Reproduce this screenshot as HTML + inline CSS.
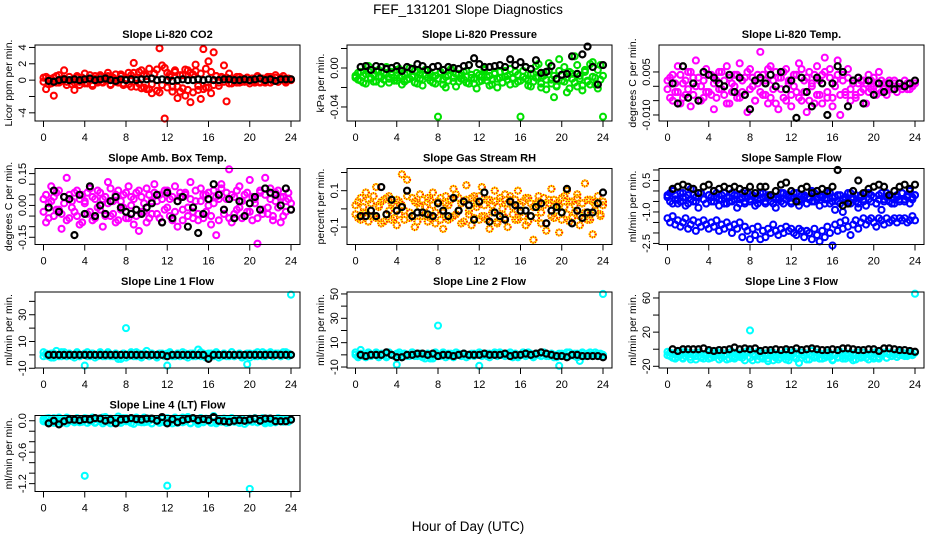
<!DOCTYPE html>
<html><head><meta charset="utf-8"><style>
body{margin:0;background:#fff;}
svg{display:block;font-family:"Liberation Sans",Arial,sans-serif;}
</style></head><body>
<svg id="chart" width="936" height="540" viewBox="0 0 936 540" xmlns="http://www.w3.org/2000/svg">
<text x="468" y="14" text-anchor="middle" font-size="13.5">FEF_131201 Slope Diagnostics</text>
<text x="468" y="531" text-anchor="middle" font-size="13.5">Hour of Day (UTC)</text>
</svg>
<script>
// ---- data ----
const xTicks = [0,4,8,12,16,20,24];
const co2Red = [0.3,-1.1,0.2,-0.4,-1.9,0.5,-0.3,0.1,1.2,-0.2,0.4,-0.5,-1.2,0.3,-0.6,0.2,0.8,-0.4,0.1,-0.7,0.5,-0.3,0.6,-0.2,0.4,0.9,-0.5,0.2,0.7,-0.3,0.5,-0.6,0.2,0.9,-0.8,2.1,0.3,-0.4,1.2,-0.9,0.5,-1.1,-1.6,0.8,1.3,-1.5,1.8,-4.7,0.9,0.4,-0.8,1.0,-2.2,-1.4,0.6,-1.9,1.2,-2.7,0.7,1.9,-1.2,-2.3,3.8,-0.9,2.3,-1.6,3.4,0.5,-0.7,0.3,1.8,-2.6,0.8,-0.4,0.2,-0.3,0.4,-0.2,0.1,0.3,-0.4,0.2,-0.1,0.5,-0.3,0.2,-0.2,0.4,-0.3,0.1,0.6,-0.2,0.3,0.5,-0.1,0.2,0.1];
const co2RedB = [-0.2,0.4,-0.5,0.1,0.3,-0.3,0.6,-0.1,0.2,-0.6,0.4,0.0,-0.3,0.5,-0.2,0.3,-0.4,0.1,0.6,-0.5,0.2,-0.1,0.4,-0.3,0.0,0.5,-0.6,0.3,-0.2,0.1,0.7,-0.4,0.2,-0.5,0.6,0.9,-0.8,1.0,-1.0,0.7,-1.1,1.4,-0.5,0.8,-1.3,3.9,-0.6,1.5,-0.9,0.7,-1.4,1.2,-0.8,0.6,-1.0,1.3,-1.2,0.9,-1.5,1.1,-0.7,0.8,-1.1,1.4,-0.9,1.0,-0.6,0.5,-0.3,0.4,-0.2,0.3,-0.4,0.2,-0.1,0.4,-0.3,0.2,-0.2,0.3,-0.1,0.2,-0.3,0.4,-0.2,0.1,-0.3,0.2,0.4,-0.1,0.3,-0.2,0.1,0.2,-0.3,0.1,0.0];
const co2Black = [-0.1,-0.2,0.0,0.1,0.0,0.1,0.0,0.1,0.2,0.0,0.1,0.2,0.0,-0.1,0.1,0.0,0.1,0.0,0.1,0.1,0.2,0.0,0.1,0.0,-0.1,0.0,0.1,0.0,0.0,0.1,0.0,0.1,0.0,0.0,0.1,0.1,0.0,0.0,0.1,0.0,0.1,0.2,0.0,0.1,-0.1,0.1,0.1,0.1];

const presGreen = [-0.008,-0.012,-0.004,-0.015,-0.006,0.002,-0.010,-0.014,-0.003,-0.009,-0.016,-0.005,0.001,-0.011,-0.007,-0.013,-0.002,-0.010,-0.017,-0.006,-0.012,0.000,-0.008,-0.015,-0.004,-0.011,-0.018,-0.007,-0.003,-0.013,-0.009,-0.016,-0.050,-0.005,-0.012,-0.020,-0.008,-0.002,-0.014,-0.019,-0.006,-0.011,-0.004,-0.015,0.003,-0.010,-0.016,-0.021,-0.007,-0.013,-0.001,-0.009,-0.018,-0.012,-0.005,-0.020,-0.010,-0.015,-0.003,-0.008,-0.017,-0.011,-0.004,-0.014,-0.050,-0.009,0.001,-0.013,-0.019,-0.006,-0.010,0.004,-0.016,-0.008,-0.022,-0.003,-0.012,-0.030,-0.018,0.009,-0.007,-0.014,-0.025,-0.004,-0.011,0.012,-0.019,-0.008,-0.023,-0.002,-0.013,-0.017,0.006,-0.010,-0.021,0.003,-0.050];
const presGreenB = [-0.010,-0.005,-0.013,-0.008,-0.016,-0.003,-0.011,-0.007,-0.014,-0.002,-0.009,-0.012,-0.006,-0.015,-0.004,-0.010,-0.013,-0.001,-0.008,-0.014,-0.005,-0.011,-0.009,-0.003,-0.016,-0.007,-0.012,-0.002,-0.010,-0.006,-0.015,-0.008,-0.011,-0.004,-0.017,-0.009,-0.013,-0.001,-0.010,-0.006,-0.014,-0.008,-0.012,-0.003,-0.016,-0.007,-0.011,-0.005,-0.014,-0.009,-0.002,-0.013,-0.008,-0.017,-0.006,-0.011,-0.004,-0.015,-0.009,-0.012,-0.001,-0.010,-0.016,-0.007,-0.013,-0.003,-0.011,-0.018,-0.006,-0.014,0.002,-0.009,-0.020,-0.005,-0.012,0.005,-0.016,-0.008,-0.019,-0.003,-0.013,0.001,-0.010,-0.021,-0.006,-0.015,0.003,-0.011,-0.018,-0.004,-0.014,0.004,-0.009,-0.017,-0.002,-0.012,-0.008];
const presBlack = [0.001,0.002,-0.002,0.002,0.001,-0.001,0.000,0.002,-0.003,0.001,-0.001,0.004,0.002,-0.002,0.001,0.002,-0.002,0.001,0.000,-0.001,0.002,0.003,0.010,0.004,0.001,0.001,0.002,0.003,0.001,0.009,0.003,0.006,0.001,-0.001,0.008,-0.005,-0.004,0.002,-0.011,-0.007,-0.006,0.012,-0.006,0.014,0.022,0.001,-0.017,0.003];

const tempMag = [0.002,-0.004,0.004,-0.002,0.007,-0.006,0.001,-0.003,0.005,-0.007,0.003,0.009,-0.005,0.000,-0.004,0.006,-0.002,0.004,-0.008,0.002,-0.001,0.005,-0.003,0.007,-0.006,0.001,0.004,-0.004,0.008,-0.002,0.003,-0.009,0.006,0.000,-0.005,0.004,0.012,-0.003,0.002,-0.006,0.007,-0.001,0.005,-0.008,0.003,-0.004,0.006,0.001,-0.007,0.004,-0.002,0.008,-0.005,0.002,-0.009,0.005,0.000,-0.006,0.007,-0.003,0.004,0.010,-0.004,0.006,-0.007,0.002,0.009,-0.010,0.004,-0.003,0.006,-0.005,0.001,-0.004,0.003,-0.002,0.002,-0.006,0.004,-0.001,0.003,-0.003,0.005,-0.002,0.001,-0.003,0.002,-0.001,0.002,-0.002,0.001,0.000,0.002,-0.001,0.001,0.000,0.001];
const tempMagB = [-0.001,0.003,-0.005,0.001,-0.002,0.004,-0.004,0.002,-0.001,0.005,-0.003,0.000,0.003,-0.005,0.002,-0.002,0.004,-0.003,0.001,-0.004,0.005,-0.001,0.002,-0.006,0.003,-0.002,0.000,0.004,-0.004,0.002,-0.003,0.005,-0.001,0.003,-0.005,0.001,-0.002,0.004,-0.003,0.006,-0.004,0.002,-0.006,0.003,-0.001,0.005,-0.005,0.002,-0.003,0.000,0.004,-0.004,0.006,-0.002,0.003,-0.005,0.001,0.004,-0.003,0.002,-0.006,0.005,-0.002,0.003,-0.004,0.000,0.004,-0.003,0.002,-0.002,0.003,-0.001,0.002,-0.003,0.001,0.002,-0.001,0.001,-0.002,0.002,0.000,0.001,-0.001,0.002,-0.001,0.001,0.000,-0.001,0.001,0.000,0.001,-0.001,0.000,0.001,-0.001,0.000,0.001];
const tempBlack = [0.001,-0.006,0.007,-0.004,0.001,-0.005,0.005,0.004,0.003,0.001,0.000,0.004,-0.002,0.003,-0.003,-0.008,0.002,0.003,0.001,0.004,0.000,0.005,-0.001,0.002,-0.011,0.003,-0.002,-0.007,0.003,0.001,-0.010,0.001,0.007,0.005,-0.007,0.002,0.003,-0.006,0.002,-0.003,0.001,-0.002,0.001,-0.001,0.001,0.000,0.001,0.002];

const boxMag = [0.03,-0.08,0.01,0.09,-0.05,0.06,-0.02,-0.11,0.04,0.13,-0.06,0.02,-0.03,0.07,-0.09,0.05,0.01,-0.04,0.08,-0.07,0.03,-0.01,0.06,-0.10,0.04,0.11,-0.05,0.02,-0.08,0.07,-0.02,0.05,-0.06,0.09,0.00,-0.09,0.06,-0.12,0.04,-0.03,0.08,-0.06,0.02,0.10,-0.04,0.05,-0.08,0.07,-0.01,0.03,-0.07,0.09,-0.10,0.04,-0.02,0.06,-0.05,0.11,-0.03,0.02,-0.07,0.08,-0.06,0.05,0.00,-0.09,0.07,-0.14,0.03,0.10,-0.04,0.06,0.17,-0.08,0.04,-0.02,0.09,-0.06,0.05,-0.03,0.12,-0.07,0.03,-0.18,0.06,-0.04,0.13,-0.01,0.08,-0.05,0.02,0.07,-0.08,0.04,-0.03,0.06,0.01];
const boxMagB = [-0.03,0.05,-0.06,0.02,0.04,-0.02,0.07,-0.04,0.01,-0.07,0.05,-0.01,0.06,-0.05,0.03,-0.08,0.02,0.06,-0.03,0.04,-0.06,0.07,-0.02,0.03,-0.05,0.01,0.08,-0.04,0.05,-0.07,0.02,-0.01,0.06,-0.06,0.04,0.03,-0.05,0.07,-0.03,0.01,-0.08,0.05,-0.04,0.06,0.02,-0.06,0.03,-0.02,0.07,-0.05,0.04,-0.03,0.02,0.06,-0.07,0.05,-0.01,0.03,-0.06,0.07,-0.04,0.02,0.05,-0.03,0.06,-0.05,0.01,0.04,-0.07,0.08,-0.02,0.03,-0.06,0.05,-0.04,0.07,-0.01,0.02,-0.05,0.06,-0.03,0.04,0.01,-0.06,0.07,-0.02,0.05,-0.04,0.03,-0.07,0.06,-0.01,0.04,-0.05,0.02,0.03,-0.02];
const boxBlack = [-0.01,0.07,-0.03,0.04,0.03,-0.14,0.05,-0.04,0.09,-0.05,0.00,-0.04,0.02,0.04,-0.01,-0.03,-0.04,-0.02,-0.04,-0.01,0.01,0.05,-0.08,0.06,-0.06,0.02,0.04,-0.10,-0.01,-0.13,-0.04,0.03,0.10,0.05,-0.02,0.03,-0.06,0.02,-0.05,0.01,0.04,-0.02,0.08,0.06,0.05,0.00,0.08,-0.02];

const rhOrange = [0.02,-0.05,0.06,-0.02,0.09,-0.07,0.03,-0.04,0.12,0.01,-0.08,0.05,-0.03,0.07,-0.06,0.02,-0.09,0.04,0.19,-0.01,0.16,-0.05,0.06,-0.10,0.03,0.08,-0.04,0.01,-0.07,0.05,0.09,-0.02,0.04,-0.06,-0.11,0.07,0.02,-0.05,0.11,-0.03,0.06,-0.08,0.04,0.13,-0.01,-0.09,0.07,0.03,-0.06,0.12,-0.04,0.05,-0.11,0.02,0.10,-0.07,0.04,-0.03,0.08,-0.10,0.05,0.01,-0.06,0.10,-0.02,0.04,-0.09,0.06,-0.04,-0.17,0.03,0.07,-0.08,0.02,-0.12,0.05,0.11,-0.05,0.03,-0.13,0.06,0.01,0.10,-0.07,0.04,-0.02,0.08,-0.09,0.03,0.14,-0.06,0.05,-0.14,0.02,0.07,-0.04,0.04];
const rhOrangeB = [-0.03,0.04,-0.06,0.01,-0.02,0.05,-0.04,0.07,-0.05,0.02,0.04,-0.07,0.06,-0.01,0.03,-0.05,0.05,-0.03,0.02,-0.06,0.07,-0.02,-0.04,0.04,-0.07,0.01,0.05,-0.03,0.06,-0.05,0.02,-0.08,0.04,0.06,-0.02,0.03,-0.06,0.05,-0.04,0.08,-0.01,0.03,-0.07,0.05,-0.03,0.06,-0.05,0.01,0.07,-0.04,0.02,-0.06,0.05,-0.02,0.04,-0.08,0.06,0.00,-0.05,0.03,0.07,-0.03,0.05,-0.06,0.02,-0.04,0.06,-0.07,0.03,0.01,-0.05,0.04,-0.02,0.06,-0.08,0.03,-0.04,0.05,-0.01,0.02,-0.06,0.07,-0.03,0.04,-0.05,0.02,0.06,-0.04,0.03,-0.02,0.05,-0.06,0.04,-0.01,0.03,-0.03,0.02];
const rhBlack = [-0.04,-0.04,-0.01,-0.04,0.12,-0.03,0.05,-0.01,0.01,0.10,-0.04,-0.02,-0.02,-0.03,-0.04,0.03,-0.01,-0.04,0.06,-0.01,0.04,0.02,-0.06,0.04,0.09,-0.07,-0.02,-0.04,-0.06,0.04,0.02,-0.01,-0.01,-0.04,0.01,0.03,-0.08,-0.01,0.01,-0.02,0.11,-0.08,-0.01,-0.05,-0.02,-0.02,0.03,0.09];

const sfBlue = [-0.2,-0.5,0.0,-0.4,-0.6,-0.1,-0.3,-0.7,-0.2,0.1,-0.5,-0.3,-0.8,-0.1,-0.4,-0.6,-0.2,-0.5,0.0,-0.3,-0.7,-0.4,-0.1,-0.6,-0.3,-0.5,-0.2,-0.8,-0.4,-0.1,-0.6,-0.3,-0.5,-0.2,-0.7,-0.4,-0.1,-0.3,-0.6,-0.2,-0.5,-0.3,-0.8,-0.4,-0.1,-0.6,-0.2,-0.3,-0.5,-0.1,-0.4,-0.7,-0.2,-0.3,-0.6,-0.4,0.0,-0.5,-0.3,-0.7,-0.2,-0.4,-0.1,-0.6,-0.3,-0.9,-0.5,-0.2,-1.0,-0.4,-0.1,-0.6,-0.3,-0.5,-0.8,-0.2,-0.4,-0.7,-0.1,-0.5,-0.3,-0.6,-0.2,-0.9,-0.4,-0.1,-0.5,-0.3,-0.6,-0.2,-0.4,-0.1,-0.5,-0.3,0.0,-0.4,-0.2];
const sfBlueLow = [-1.3,-1.5,-1.2,-1.6,-1.4,-1.7,-1.5,-1.3,-1.8,-1.6,-1.4,-1.9,-1.5,-1.7,-1.4,-1.6,-1.8,-1.5,-1.7,-1.4,-1.9,-1.6,-1.8,-1.5,-1.7,-2.0,-1.6,-1.8,-1.5,-2.2,-1.7,-1.9,-2.3,-1.8,-2.1,-1.7,-2.3,-1.9,-2.2,-1.8,-2.0,-1.6,-1.9,-2.1,-1.8,-2.0,-1.7,-1.9,-1.8,-2.0,-2.1,-1.8,-1.9,-2.2,-1.9,-2.0,-2.3,-1.8,-2.1,-2.4,-1.9,-2.2,-1.7,-2.0,-2.6,-1.6,-1.9,-1.5,-1.8,-1.4,-1.7,-2.1,-1.6,-1.4,-1.8,-1.5,-1.3,-1.6,-1.4,-1.3,-1.5,-1.7,-1.3,-1.4,-1.6,-1.3,-1.5,-1.4,-1.3,-1.5,-1.3,-1.4,-1.3,-1.5,-1.4,-1.2,-1.4];
const sfBlueB = [-0.3,-0.1,-0.6,-0.2,-0.4,-0.5,-0.1,-0.3,-0.6,-0.4,-0.2,-0.5,-0.3,-0.1,-0.4,-0.6,-0.2,-0.3,-0.5,-0.1,-0.4,-0.2,-0.6,-0.3,-0.5,-0.1,-0.4,-0.2,-0.6,-0.3,-0.5,-0.1,-0.4,-0.2,-0.3,-0.6,-0.4,-0.1,-0.5,-0.3,-0.2,-0.6,-0.4,-0.3,-0.5,-0.1,-0.4,-0.2,-0.6,-0.3,-0.1,-0.5,-0.4,-0.2,-0.6,-0.3,-0.5,-0.1,-0.4,-0.2,-0.3,-0.6,-0.4,-0.1,-0.5,-0.3,-0.2,-0.6,-0.4,-0.3,-0.5,-0.1,-0.4,-0.2,-0.6,-0.3,-0.5,-0.1,-0.4,-0.2,-0.3,-0.6,-0.4,-0.1,-0.5,-0.3,-0.2,-0.6,-0.4,-0.3,-0.5,-0.1,-0.4,-0.2,-0.6,-0.3,-0.2];
const sfBlack = [0.1,0.2,0.3,0.2,0.1,-0.1,0.2,0.3,0.0,0.1,0.2,0.1,0.2,0.1,0.0,0.2,-0.1,0.2,0.2,-0.2,0.0,0.3,0.4,0.0,-0.5,0.1,0.2,-0.1,0.0,0.1,0.0,0.2,1.0,-0.7,-0.6,0.0,0.5,-0.1,0.1,0.2,0.3,0.2,-0.2,0.0,0.2,0.3,0.1,0.3];

const l1Cyan = [2,0,-1,1,-2,3,0,-1,2,-1,1,0,-2,1,-1,0,-8,2,-1,1,0,-1,2,0,-1,1,0,-1,1,-3,-3,1,20,-1,2,0,-1,1,-2,0,3,-1,1,0,-1,0,1,0,-8,1,0,-1,1,0,2,-1,0,1,-1,0,4,-1,1,-2,0,1,-1,2,0,-1,1,0,-1,2,-1,0,1,-2,-1,-7,1,0,-1,2,0,-1,1,0,2,-1,1,0,-1,2,0,1,45];
const l1CyanB = [-1,1,0,-2,1,0,-1,2,0,-1,1,-1,0,2,-1,0,1,-1,0,1,-2,0,1,-1,0,2,-1,0,1,-1,0,1,-2,0,1,-1,2,0,-1,1,0,-1,1,0,-2,1,0,-1,1,2,-1,0,1,-1,0,1,-2,0,1,-1,0,2,-1,0,1,-1,0,1,-2,0,1,-1,0,2,-1,0,1,-1,0,1,-2,0,1,-1,0,2,-1,0,1,-1,0,1,-1,0,2,-1,0];
const l1Black = [0,0,0,0,0,0,0,0,0,0,0,0,0,0,0,0,0,0,0,0,0,0,0,-1,0,0,0,0,0,0,0,-3,0,0,0,0,0,0,0,0,0,0,0,0,0,0,0,0];

const l2Cyan = [2,-1,4,0,-2,1,-1,0,2,-1,1,0,-2,1,0,-1,-8,2,-1,1,0,-1,2,0,-1,1,0,-3,1,-3,-3,1,24,-1,2,0,-1,1,-2,0,1,-1,1,0,-1,0,1,0,-9,1,0,-1,1,0,2,-1,0,1,-1,0,2,-1,1,-2,0,1,-1,2,0,-1,1,0,-1,2,-1,0,1,-2,-1,-9,1,0,-1,2,0,-1,1,-5,2,-1,1,0,-1,2,0,1,50];
const l2CyanB = [0,-2,1,-1,0,2,-1,0,1,-2,0,1,-1,2,0,-1,1,0,-2,1,-1,0,2,-1,0,1,-2,0,1,-1,0,2,-1,0,1,-2,1,0,-1,2,0,-1,1,-2,0,1,-1,0,2,-1,0,1,-2,0,1,-1,2,0,-1,1,0,-2,1,-1,0,2,-1,0,1,-2,0,1,-1,2,0,-1,1,0,-2,1,-1,0,2,-1,0,1,-2,0,1,-1,0,2,-1,0,1,-1,0];
const l2Black = [0,-1,0,0,0,2,0,-2,-2,0,0,1,1,0,1,-1,0,0,-1,0,1,0,0,0,1,0,0,0,1,-1,0,0,1,0,1,2,1,0,-1,-1,-2,0,0,-1,-1,-1,-1,-2];

const l3Cyan = [-3,-8,-5,-11,-4,-7,-10,-3,-6,-12,-5,-8,-4,-9,-11,-6,-3,-10,-7,-5,-12,-4,-8,-6,-11,-3,-9,-7,-5,-10,-4,-2,22,-13,-6,-3,-9,-11,-5,-14,-7,-4,-10,-12,-6,-8,-3,-13,-5,-9,-11,-16,-4,-7,-12,-6,-2,-10,-8,-5,-11,-7,-4,-9,-12,-6,-10,-3,-8,-11,-5,-9,-13,-7,-4,-10,-8,-6,-12,-5,-9,-3,-11,-7,-5,-10,-4,-8,-6,-9,-3,-7,-5,-8,-4,-6,65];
const l3CyanB = [-7,-4,-10,-6,-9,-3,-11,-8,-5,-9,-7,-12,-4,-10,-6,-8,-11,-5,-9,-3,-7,-10,-6,-12,-4,-8,-11,-5,-9,-7,-13,-3,-10,-6,-8,-12,-5,-9,-7,-11,-4,-13,-8,-6,-10,-5,-12,-9,-7,-3,-11,-6,-10,-8,-5,-12,-7,-9,-4,-11,-6,-10,-8,-5,-13,-7,-9,-4,-11,-6,-8,-10,-5,-12,-7,-9,-4,-10,-6,-8,-11,-5,-9,-7,-4,-10,-6,-8,-5,-9,-7,-4,-8,-6,-5,-7,-4];
const l3Black = [0,-2,0,0,0,0,1,-1,-2,-1,-1,0,2,0,1,0,1,-2,-1,-1,0,-1,0,-1,1,-1,0,1,0,-1,-1,0,-1,1,1,0,-1,-1,0,0,-2,1,1,0,-1,-1,-2,-3];

const l4Cyan = [0.03,-0.02,0.05,0.00,-0.04,0.02,0.06,-0.01,0.03,-0.05,0.04,0.01,-0.02,0.05,-0.03,0.02,-1.05,0.04,-0.01,0.06,-0.04,0.03,0.00,-0.05,0.07,-0.02,0.04,0.01,-0.03,0.08,-0.04,0.02,0.05,-0.01,0.03,-0.06,0.04,0.00,-0.03,0.06,-0.02,0.04,-0.05,0.03,0.01,-0.04,0.05,-0.02,-1.24,0.03,-0.05,0.06,-0.01,0.04,-0.03,0.02,0.07,-0.04,0.03,0.00,-0.06,0.05,-0.02,0.04,0.01,-0.03,0.09,-0.05,0.03,-0.01,0.04,-0.04,0.02,0.05,-0.02,0.03,-0.04,0.01,-0.06,-0.02,-1.30,-0.02,0.05,-0.03,0.02,0.00,-0.05,0.04,-0.01,0.03,-0.03,0.05,0.00,-0.02,0.03,-0.01,0.02];
const l4CyanB = [-0.01,0.04,-0.03,0.02,0.05,-0.02,0.01,-0.04,0.03,0.06,-0.01,0.02,-0.03,0.04,0.00,-0.02,0.05,-0.04,0.02,0.01,-0.03,0.04,-0.01,0.06,-0.02,0.03,-0.05,0.01,0.04,-0.03,0.02,0.05,-0.01,0.03,-0.04,0.02,0.06,-0.02,0.01,-0.03,0.04,0.00,-0.05,0.03,0.02,-0.01,0.04,-0.03,0.05,-0.02,0.01,0.03,-0.04,0.02,0.06,-0.01,0.03,-0.05,0.04,0.01,-0.02,0.05,-0.03,0.02,0.00,-0.04,0.06,-0.01,0.03,-0.02,0.04,0.01,-0.03,0.05,-0.01,0.02,-0.04,0.03,0.00,-0.02,0.04,-0.01,0.03,-0.03,0.02,0.05,-0.02,0.01,-0.04,0.03,0.00,0.02,-0.01,0.03,0.01,-0.02,0.02];
const l4Black = [-0.05,0.00,-0.07,-0.01,0.02,0.02,0.01,0.03,0.02,0.05,0.04,0.00,0.02,-0.05,0.02,0.03,0.05,0.03,0.02,0.04,0.04,0.00,0.07,-0.05,0.03,-0.03,0.01,0.03,0.05,0.01,0.03,0.01,0.07,0.00,-0.01,-0.02,0.00,0.01,0.00,0.02,0.04,0.00,0.04,0.04,-0.01,-0.01,-0.01,0.02];

// tick values per panel
const co2Ticks=[-4,-2,0,2,4], co2Labels=["-4","","0","2","4"];
const presTicks=[-0.04,-0.02,0,0.02], presLabels=["-0.04","","0.00",""];
const tempTicks=[-0.010,-0.005,0,0.005], tempLabels=["-0.010","","","0.005"];
const boxTicks=[-0.15,-0.10,-0.05,0,0.05,0.10,0.15], boxLabels=["-0.15","","","0.00","","","0.15"];
const rhTicks=[-0.1,0,0.1,0.2], rhLabels=["-0.1","","0.1",""];
const sfTicks=[-2.5,-2,-1.5,-1,-0.5,0,0.5,1], sfLabels=["-2.5","","","-1.0","","","0.5",""];
const l1Ticks=[-10,0,10,20,30,40], l1Labels=["-10","","10","","30",""];
const l2Ticks=[-10,0,10,20,30,40,50], l2Labels=["-10","","10","","30","","50"];
const l3Ticks=[-20,0,20,40,60], l3Labels=["-20","","20","","60"];
const l4Ticks=[-1.2,-1,-0.8,-0.6,-0.4,-0.2,0], l4Labels=["-1.2","","","-0.6","","","0.0"];

const panels = [
 {name:"co2",title:"Slope Li-820 CO2",yt:"Licor ppm per min.",col:0,row:0,dom:[-5.0,4.3],ticks:co2Ticks,labels:co2Labels,series:[[co2RedB,"#ff0000"],[co2Red,"#ff0000"]],black:co2Black},
 {name:"pressure",title:"Slope Li-820 Pressure",yt:"kPa per min.",col:1,row:0,dom:[-0.0544,0.0236],ticks:presTicks,labels:presLabels,series:[[presGreenB,"#00e000"],[presGreen,"#00e000"]],black:presBlack},
 {name:"temp",title:"Slope Li-820 Temp.",yt:"degrees C per min.",col:2,row:0,dom:[-0.0121,0.0144],ticks:tempTicks,labels:tempLabels,series:[[tempMagB,"#ff00ff"],[tempMag,"#ff00ff"]],black:tempBlack},
 {name:"amb-box",title:"Slope Amb. Box Temp.",yt:"degrees C per min.",col:0,row:1,dom:[-0.184,0.174],ticks:boxTicks,labels:boxLabels,series:[[boxMagB,"#ff00ff"],[boxMag,"#ff00ff"]],black:boxBlack},
 {name:"gas-rh",title:"Slope Gas Stream RH",yt:"percent per min.",col:1,row:1,dom:[-0.196,0.222],ticks:rhTicks,labels:rhLabels,series:[[rhOrangeB,"rh"],[rhOrange,"rh"]],black:rhBlack},
 {name:"sample-flow",title:"Slope Sample Flow",yt:"ml/min per min.",col:2,row:1,dom:[-2.55,1.07],ticks:sfTicks,labels:sfLabels,series:[[sfBlueLow,"#0000ff"],[sfBlueB,"#0000ff"],[sfBlue,"#0000ff"]],black:sfBlack},
 {name:"line1",title:"Slope Line 1 Flow",yt:"ml/min per min.",col:0,row:2,dom:[-9.8,47],ticks:l1Ticks,labels:l1Labels,series:[[l1CyanB,"#00ffff"],[l1Cyan,"#00ffff"]],black:l1Black},
 {name:"line2",title:"Slope Line 2 Flow",yt:"ml/min per min.",col:1,row:2,dom:[-10.8,51.6],ticks:l2Ticks,labels:l2Labels,series:[[l2CyanB,"#00ffff"],[l2Cyan,"#00ffff"]],black:l2Black},
 {name:"line3",title:"Slope Line 3 Flow",yt:"ml/min per min.",col:2,row:2,dom:[-22,67],ticks:l3Ticks,labels:l3Labels,series:[[l3CyanB,"#00ffff"],[l3Cyan,"#00ffff"]],black:l3Black},
 {name:"line4",title:"Slope Line 4 (LT) Flow",yt:"ml/min per min.",col:0,row:3,dom:[-1.35,0.1],ticks:l4Ticks,labels:l4Labels,series:[[l4CyanB,"#00ffff"],[l4Cyan,"#00ffff"]],black:l4Black}
];

const NS="http://www.w3.org/2000/svg";
const svg=document.getElementById('chart');
function el(tag,attrs,parent){const e=document.createElementNS(NS,tag);for(const k in attrs)e.setAttribute(k,attrs[k]);(parent||svg).appendChild(e);return e;}
const boxW=265, boxH=76, PR=3, PW=2.1;
panels.forEach(p=>{
  const L=35+p.col*312, T=45+p.row*123.5, B=T+boxH, R=L+boxW;
  const g=el('g',{});
  
  
  const xs=h=>L+8.5+h*(boxW-17.5)/24;
  const ys=v=>B-(v-p.dom[0])/(p.dom[1]-p.dom[0])*boxH;
  p.series.forEach(([arr,color])=>{
    arr.forEach((v,i)=>{
      const h=i*24/(arr.length-1);
      if(color==="rh"){
        const c=el('circle',{cx:xs(h),cy:ys(v),r:PR,fill:'none',stroke:'#ffff00','stroke-width':PW},g);
        
        
        const c2=el('circle',{cx:xs(h),cy:ys(v),r:PR,fill:'none',stroke:'#ff2000','stroke-width':PW,'stroke-dasharray':'1 1.2'},g);
        
        
      } else {
        const c=el('circle',{cx:xs(h),cy:ys(v),r:PR,fill:'none',stroke:color,'stroke-width':PW},g);
        
        
      }
    });
  });
  p.black.forEach((v,i)=>{
    const h=0.5+i*23.5/(p.black.length-1);
    const c=el('circle',{cx:xs(h),cy:ys(v),r:PR,fill:'none',stroke:'#000','stroke-width':2.2},g);
    
    
  });
  const bx=el('rect',{x:L,y:T,width:boxW,height:boxH,fill:'none',stroke:'#000','stroke-width':1},g);
  
  
  xTicks.forEach(t=>{
    el('line',{x1:xs(t),x2:xs(t),y1:B,y2:B+6,stroke:'#000'},g);
    const tx=el('text',{x:xs(t),y:B+20,'text-anchor':'middle','font-size':11},g);
    tx.textContent=t;
    
    
  });
  p.ticks.forEach((t,i)=>{
    el('line',{x1:L-6,x2:L,y1:ys(t),y2:ys(t),stroke:'#000'},g);
    if(p.labels[i]){
      const tx=el('text',{x:0,y:0,'text-anchor':'middle','font-size':11,transform:`translate(${L-9},${ys(t)}) rotate(-90)`},g);
      tx.textContent=p.labels[i];
      
      
    }
  });
  const yt=el('text',{x:0,y:0,'text-anchor':'middle','font-size':10.5,transform:`translate(${L-23},${(T+B)/2}) rotate(-90)`},g);
  yt.textContent=p.yt;
  
  
  const ti=el('text',{x:(L+R)/2,y:T-7,'text-anchor':'middle','font-size':11,'font-weight':'bold'},g);
  ti.textContent=p.title;
  
  
});
</script>
</body></html>
